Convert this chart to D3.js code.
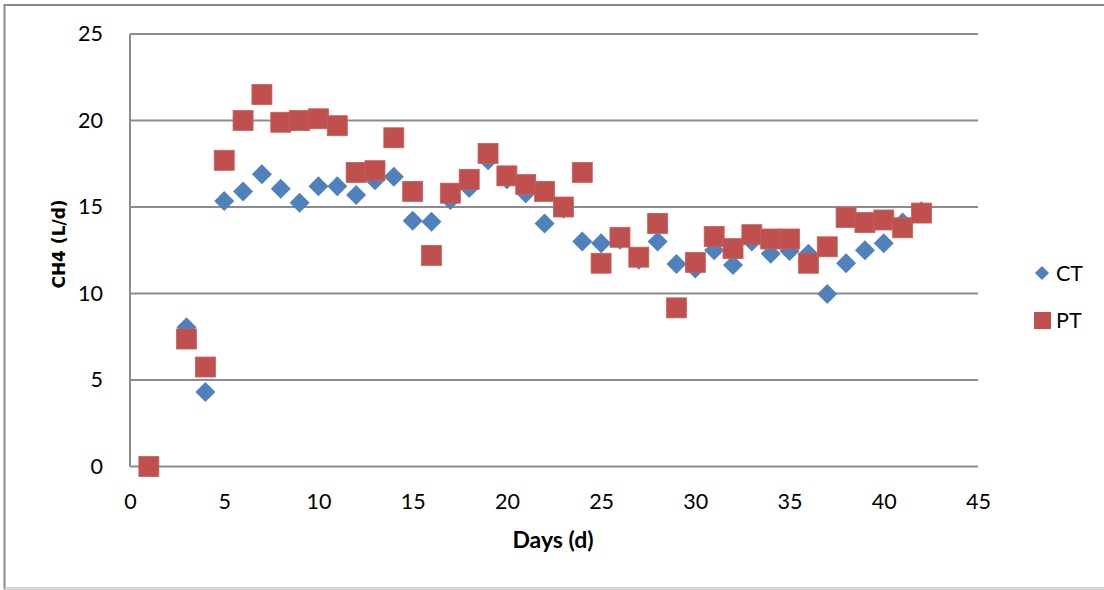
<!DOCTYPE html>
<html>
<head>
<meta charset="utf-8">
<script src="https://cdn.jsdelivr.net/npm/d3@7"></script>
<style>
  html, body { margin: 0; padding: 0; background: #fff; }
  svg { display: block; }
</style>
</head>
<body>
<svg id="chart" width="1104" height="590"></svg>
<script>
const days = [1,3,4,5,6,7,8,9,10,11,12,13,14,15,16,17,18,19,20,21,22,23,24,25,26,27,28,29,30,31,32,33,34,35,36,37,38,39,40,41,42];
const ctValues = [0,8.05,4.3,15.35,15.9,16.9,16.05,15.25,16.2,16.2,15.7,16.55,16.75,14.2,14.15,15.4,16.1,17.7,16.6,15.8,14.05,14.9,13.0,12.9,13.1,11.95,13.0,11.7,11.45,12.5,11.65,13.0,12.3,12.45,12.3,9.97,11.75,12.5,12.9,14.1,14.75];
const ptValues = [0,7.37,5.75,17.7,20.0,21.5,19.9,20.0,20.1,19.7,17.0,17.1,19.0,15.9,12.2,15.8,16.6,18.1,16.8,16.3,15.9,15.0,17.0,11.75,13.25,12.1,14.05,9.17,11.8,13.3,12.6,13.4,13.15,13.15,11.75,12.7,14.4,14.1,14.25,13.8,14.65];
const xTicks = [0,5,10,15,20,25,30,35,40,45];
const yTicks = [0,5,10,15,20,25];
const seriesNames = ["CT","PT"];

const svg = d3.select("#chart");
const font = "Lato, 'Open Sans', sans-serif";
const fs = 21.5;

// outer frame
svg.append("rect").attr("x",4.5).attr("y",5).attr("width",1110).attr("height",583.5)
  .attr("fill","#fff").attr("stroke","#8a8a8a").attr("stroke-width",2);
svg.append("line").attr("x1",5).attr("x2",1104).attr("y1",588.5).attr("y2",588.5)
  .attr("stroke","#e0e0e0").attr("stroke-width",2);

const x = d3.scaleLinear().domain([0,45]).range([130,978]);
const y = d3.scaleLinear().domain([0,25]).range([466.5,34]);

// gridlines
svg.append("g").selectAll("line").data(yTicks).join("line")
  .attr("x1",x(0)).attr("x2",x(45))
  .attr("y1",d=>y(d)).attr("y2",d=>y(d))
  .attr("stroke","#8c8c8c").attr("stroke-width",2);

// y axis line
svg.append("line").attr("x1",x(0)).attr("x2",x(0)).attr("y1",y(25)).attr("y2",y(0))
  .attr("stroke","#8c8c8c").attr("stroke-width",2);

// y tick labels
const yAxis = d3.axisLeft(y).tickValues(yTicks).tickSize(0).tickPadding(27);
const gy = svg.append("g").attr("transform",`translate(${x(0)},0)`).call(yAxis);
gy.select(".domain").remove();
gy.selectAll("text").attr("font-family",font).attr("font-size",fs).attr("fill","#000");

// x tick labels
const xAxis = d3.axisBottom(x).tickValues(xTicks).tickSize(0).tickPadding(27);
const gx = svg.append("g").attr("transform",`translate(0,${y(0)})`).call(xAxis);
gx.select(".domain").remove();
gx.selectAll("text").attr("font-family",font).attr("font-size",fs).attr("fill","#000");

// axis titles
svg.append("text").attr("x",(x(0)+x(45))/2 - 1).attr("y",548)
  .attr("text-anchor","middle").attr("font-family",font).attr("font-weight","bold")
  .attr("font-size",23).text("Days (d)");
svg.append("text").attr("transform",`translate(65,244) rotate(-90)`)
  .attr("text-anchor","middle").attr("font-family","'DejaVu Sans', sans-serif").attr("font-weight","bold")
  .attr("font-size",17).text("CH4 (L/d)");

const ctColor = "#4F81BD", ptColor = "#C0504D";
const diamond = d3.symbol().type(d3.symbolSquare).size(200);

// CT diamonds
svg.append("g").selectAll("path").data(days.map((d,i)=>[d,ctValues[i]])).join("path")
  .attr("d",diamond)
  .attr("transform",d=>`translate(${x(d[0])},${y(d[1])}) rotate(45)`)
  .attr("fill",ctColor);

// PT squares
svg.append("g").selectAll("rect").data(days.map((d,i)=>[d,ptValues[i]])).join("rect")
  .attr("x",d=>x(d[0])-10).attr("y",d=>y(d[1])-10)
  .attr("width",20).attr("height",20)
  .attr("fill",ptColor).attr("stroke","#c4615e").attr("stroke-width",0.8);

// legend
const lg = svg.append("g");
lg.append("path").attr("d",d3.symbol().type(d3.symbolSquare).size(100))
  .attr("transform","translate(1042,273) rotate(45)").attr("fill",ctColor);
lg.append("rect").attr("x",1034).attr("y",312).attr("width",17).attr("height",17).attr("fill",ptColor);
lg.selectAll("text").data(seriesNames).join("text")
  .attr("x",1056).attr("y",(d,i)=>281+i*47)
  .attr("font-family",font).attr("font-size",fs).attr("fill","#000").text(d=>d);
</script>
</body>
</html>
